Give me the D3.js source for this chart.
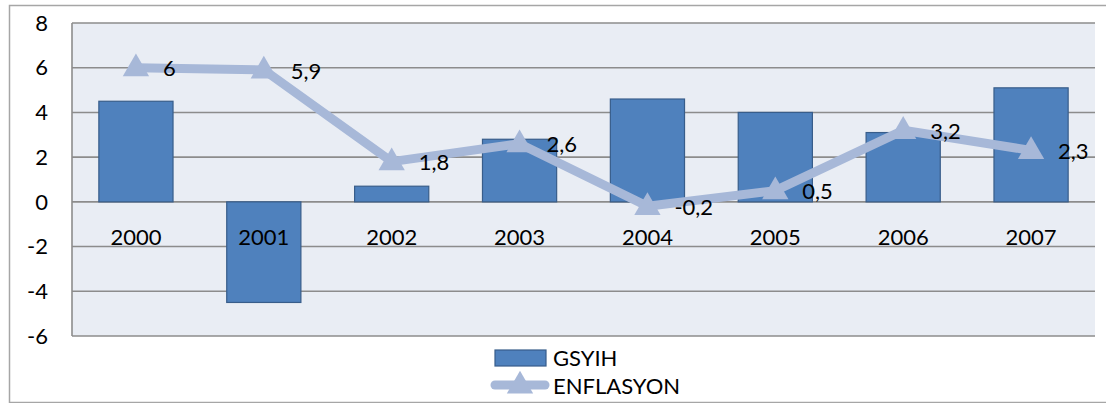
<!DOCTYPE html>
<html>
<head>
<meta charset="utf-8">
<script src="https://cdnjs.cloudflare.com/ajax/libs/d3/7.8.5/d3.min.js"></script>
<style>
  body { margin: 0; background: #fff; }
  text { font-family: Lato, "Open Sans", sans-serif; fill: #000; }
</style>
</head>
<body>
<svg width="1106" height="403"></svg>
<script>
var years = ["2000", "2001", "2002", "2003", "2004", "2005", "2006", "2007"];
var gsyih = [4.5, -4.5, 0.7, 2.8, 4.6, 4.0, 3.1, 5.1];
var enflasyon = [6, 5.9, 1.8, 2.6, -0.2, 0.5, 3.2, 2.3];
var enfLabels = ["6", "5,9", "1,8", "2,6", "-0,2", "0,5", "3,2", "2,3"];
var yTicks = [-6, -4, -2, 0, 2, 4, 6, 8];

var svg = d3.select("svg");
var plotL = 72, plotR = 1095, plotT = 23, plotB = 336;
var fs = "22px";

// outer frame
svg.append("rect").attr("x", 9.5).attr("y", 5.5).attr("width", 1110).attr("height", 397)
  .attr("fill", "#fff").attr("stroke", "#a6a6a6").attr("stroke-width", 1.5);

var x = d3.scaleBand().domain(years).range([plotL, plotR]).paddingInner(0.42).paddingOuter(0.21);
var xc = d3.scaleBand().domain(years).range([plotL, plotR]);
var y = d3.scaleLinear().domain([-6, 8]).range([plotB, plotT]);

svg.append("rect").attr("x", plotL).attr("y", plotT).attr("width", plotR - plotL).attr("height", plotB - plotT)
  .attr("fill", "#e9edf4");

// gridlines
svg.append("g").selectAll("line").data(yTicks).enter().append("line")
  .attr("x1", plotL).attr("x2", plotR)
  .attr("y1", d => y(d)).attr("y2", d => y(d))
  .attr("stroke", "#8c8c8c").attr("stroke-width", 1.6);

svg.append("line").attr("x1", plotL).attr("x2", plotL).attr("y1", plotT).attr("y2", plotB)
  .attr("stroke", "#8c8c8c").attr("stroke-width", 1.6);

// y labels
svg.append("g").selectAll("text").data(yTicks).enter().append("text")
  .attr("x", 48).attr("y", d => y(d)).attr("dy", "0.35em")
  .attr("text-anchor", "end").style("font-size", fs)
  .text(d => d);

// bars
svg.append("g").selectAll("rect").data(gsyih).enter().append("rect")
  .attr("x", (d, i) => x(years[i]))
  .attr("width", x.bandwidth())
  .attr("y", d => y(Math.max(0, d)))
  .attr("height", d => Math.abs(y(d) - y(0)))
  .attr("fill", "#4f81bd").attr("stroke", "#385d8a").attr("stroke-width", 1.2);

// category labels
svg.append("g").selectAll("text").data(years).enter().append("text")
  .attr("x", d => xc(d) + xc.bandwidth() / 2).attr("y", y(0) + 43)
  .attr("text-anchor", "middle").style("font-size", fs)
  .text(d => d);

// line
var cx = (d, i) => xc(years[i]) + xc.bandwidth() / 2;
var line = d3.line().x(cx).y(d => y(d));
svg.append("path").datum(enflasyon).attr("d", line)
  .attr("fill", "none").attr("stroke", "#a7b8d8").attr("stroke-width", 9)
  .attr("stroke-linejoin", "round");

var tri = d3.symbol().type(d3.symbolTriangle).size(300);
svg.append("g").selectAll("path").data(enflasyon).enter().append("path")
  .attr("d", tri)
  .attr("transform", (d, i) => "translate(" + cx(d, i) + "," + (y(d) + 1) + ")")
  .attr("fill", "#a7b8d8");

svg.append("g").selectAll("text").data(enflasyon).enter().append("text")
  .attr("x", (d, i) => cx(d, i) + 27).attr("y", d => y(d) + 1).attr("dy", "0.35em")
  .style("font-size", fs)
  .text((d, i) => enfLabels[i]);

// legend
var lg = svg.append("g");
lg.append("rect").attr("x", 495).attr("y", 350).attr("width", 51).attr("height", 16)
  .attr("fill", "#4f81bd").attr("stroke", "#385d8a").attr("stroke-width", 1.2);
lg.append("text").attr("x", 553).attr("y", 358).attr("dy", "0.35em").style("font-size", fs).text("GSYIH");
lg.append("line").attr("x1", 495).attr("x2", 545).attr("y1", 385).attr("y2", 385)
  .attr("stroke", "#a7b8d8").attr("stroke-width", 9).attr("stroke-linecap", "round");
lg.append("path").attr("d", tri).attr("transform", "translate(520,386)").attr("fill", "#a7b8d8");
lg.append("text").attr("x", 553).attr("y", 386).attr("dy", "0.35em").style("font-size", fs).text("ENFLASYON");
</script>
</body>
</html>
